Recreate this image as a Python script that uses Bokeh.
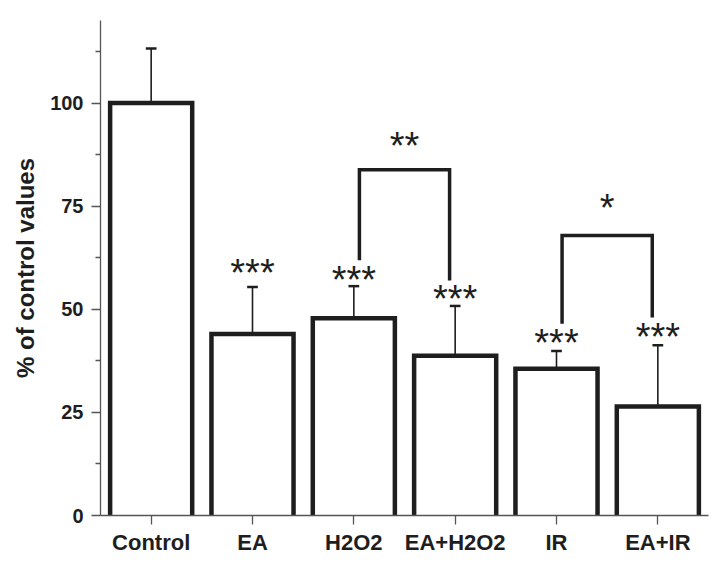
import numpy as np
from bokeh.plotting import figure
from bokeh.models import Range1d, FixedTicker
from bokeh.embed import file_html
from bokeh.resources import INLINE
from bokeh.core.properties import value

# ---- data ----
categories = ["Control", "EA", "H2O2", "EA+H2O2", "IR", "EA+IR"]
means = [100.0, 44.0, 47.8, 38.7, 35.6, 26.4]
errors = [13.2, 11.4, 7.8, 12.1, 4.3, 14.9]
star_labels = ["***", "***", "***", "***", "***"]
star_index = [1, 2, 3, 4, 5]
star_levels = [60.1, 58.3, 53.7, 43.1, 44.6]
y_ticks = [0, 25, 50, 75, 100]
y_minor = [12.5, 37.5, 62.5, 87.5, 112.5]

comp_left = [2, 4]
comp_right = [3, 5]
comp_labels = ["**", "*"]
comp_top = [83.8, 67.9]
comp_left_end = [61.9, 46.5]
comp_right_end = [57.0, 48.0]
comp_label_level = [90.9, 75.8]

# ---- figure ----
INK = "#1e1e1e"
FONT = "Liberation Sans"

p = figure(width=714, height=563, output_backend="svg", toolbar_location=None,
           x_range=Range1d(-0.5, len(categories) - 0.5), y_range=Range1d(0, 120),
           min_border_left=100, min_border_right=6, min_border_top=20, min_border_bottom=48)
p.outline_line_color = None
p.xgrid.visible = False
p.ygrid.visible = False
p.background_fill_color = "white"

x = np.arange(len(categories))
hw = 0.405
m = np.array(means)
e = np.array(errors)

# bar fills
p.vbar(x=x, top=m, bottom=0, width=2 * hw, fill_color="white", line_alpha=0)

# error bars (upward only)
p.segment(x0=x, y0=m, x1=x, y1=m + e, line_color=INK, line_width=1.6)
p.segment(x0=x - 0.053, y0=m + e, x1=x + 0.053, y1=m + e, line_color=INK, line_width=2.5)

# bar outlines (three sides, sitting on the axis)
xs = [[xi - hw, xi - hw, xi + hw, xi + hw] for xi in x]
ys = [[0, mi, mi, 0] for mi in m]
p.multi_line(xs=xs, ys=ys, line_color=INK, line_width=4.5, line_join="miter")

# stars above bars
p.text(x=[float(x[i]) for i in star_index], y=star_levels, text=star_labels,
       text_font=value(FONT), text_font_size="38px", text_color=INK,
       text_align="center", text_baseline="middle", y_offset=5)

# comparison brackets
off = 0.055
bxs = [[l + off, l + off, r - off, r - off] for l, r in zip(comp_left, comp_right)]
bys = [[le, t, t, re] for le, t, re in zip(comp_left_end, comp_top, comp_right_end)]
p.multi_line(xs=bxs, ys=bys, line_color=INK, line_width=3.5, line_join="miter")
p.text(x=[(l + r) / 2 for l, r in zip(comp_left, comp_right)], y=comp_label_level,
       text=comp_labels, text_font=value(FONT), text_font_size="38px", text_color=INK,
       text_align="center", text_baseline="middle", y_offset=5)

# axes
p.xaxis.ticker = FixedTicker(ticks=list(x))
p.xaxis.major_label_overrides = {int(i): c for i, c in zip(x, categories)}
p.xaxis.major_label_text_font = FONT
p.xaxis.major_label_text_font_style = "bold"
p.xaxis.major_label_text_font_size = "22px"
p.xaxis.major_label_text_color = INK
p.xaxis.major_tick_out = 9
p.xaxis.major_tick_in = 0
p.xaxis.minor_tick_out = 0
p.xaxis.major_label_standoff = 5

p.yaxis.ticker = FixedTicker(ticks=y_ticks, minor_ticks=y_minor)
p.yaxis.major_label_text_font = FONT
p.yaxis.major_label_text_font_style = "bold"
p.yaxis.major_label_text_font_size = "20px"
p.yaxis.major_label_text_color = INK
p.yaxis.major_tick_out = 9
p.yaxis.major_tick_in = 0
p.yaxis.minor_tick_out = 5
p.yaxis.minor_tick_in = 0
p.yaxis.major_label_standoff = 8
p.yaxis.axis_label = "% of control values"
p.yaxis.axis_label_text_font = FONT
p.yaxis.axis_label_text_font_style = "bold"
p.yaxis.axis_label_text_font_size = "24px"
p.yaxis.axis_label_text_color = INK
p.yaxis.axis_label_standoff = 8

for ax in (p.xaxis, p.yaxis):
    ax.axis_line_color = "#555555"
    ax.axis_line_width = 1.3
    ax.major_tick_line_color = "#555555"
    ax.major_tick_line_width = 1.3
    ax.minor_tick_line_color = "#555555"
    ax.minor_tick_line_width = 1.3

open("out.html", "w").write(file_html(p, INLINE))
